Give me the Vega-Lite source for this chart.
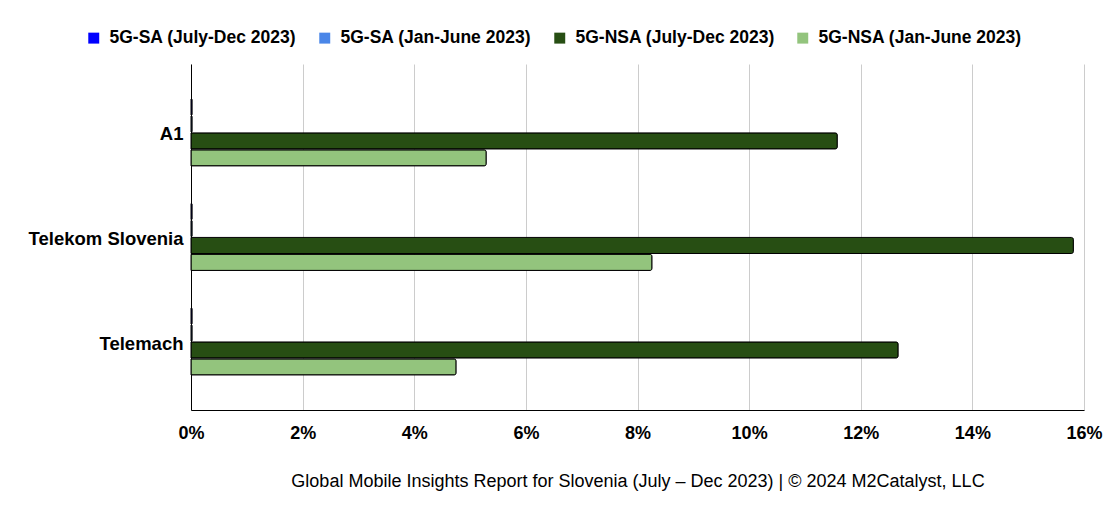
{
  "$schema": "https://vega.github.io/schema/vega-lite/v6.json",
  "width": 893,
  "height": 346,
  "autosize": "none",
  "padding": {"left": 191, "top": 64, "right": 26, "bottom": 107},
  "background": "white",
  "config": {
    "font": "Liberation Sans",
    "view": {"stroke": null}
  },
  "data": {
    "values": [
      {"operator": "A1", "series": "5G-SA (July-Dec 2023)", "value": 0.02},
      {"operator": "A1", "series": "5G-SA (Jan-June 2023)", "value": 0.02},
      {"operator": "A1", "series": "5G-NSA (July-Dec 2023)", "value": 11.58},
      {"operator": "A1", "series": "5G-NSA (Jan-June 2023)", "value": 5.29},
      {"operator": "Telekom Slovenia", "series": "5G-SA (July-Dec 2023)", "value": 0.02},
      {"operator": "Telekom Slovenia", "series": "5G-SA (Jan-June 2023)", "value": 0.02},
      {"operator": "Telekom Slovenia", "series": "5G-NSA (July-Dec 2023)", "value": 15.81},
      {"operator": "Telekom Slovenia", "series": "5G-NSA (Jan-June 2023)", "value": 8.26},
      {"operator": "Telemach", "series": "5G-SA (July-Dec 2023)", "value": 0.02},
      {"operator": "Telemach", "series": "5G-SA (Jan-June 2023)", "value": 0.02},
      {"operator": "Telemach", "series": "5G-NSA (July-Dec 2023)", "value": 12.67},
      {"operator": "Telemach", "series": "5G-NSA (Jan-June 2023)", "value": 4.75}
    ]
  },
  "mark": {"type": "bar", "stroke": "black", "strokeWidth": 1, "cornerRadiusEnd": 2},
  "encoding": {
    "y": {
      "field": "operator",
      "type": "nominal",
      "sort": ["A1", "Telekom Slovenia", "Telemach"],
      "scale": {"paddingInner": 0.36, "paddingOuter": 0.335},
      "axis": {
        "title": null,
        "ticks": false,
        "domainColor": "#000000",
        "labelFontSize": 18.5,
        "labelFontWeight": "bold",
        "labelColor": "#000000",
        "labelPadding": 8,
        "labelOffset": 2
      }
    },
    "yOffset": {
      "field": "series",
      "type": "nominal",
      "sort": ["5G-SA (July-Dec 2023)", "5G-SA (Jan-June 2023)", "5G-NSA (July-Dec 2023)", "5G-NSA (Jan-June 2023)"],
      "scale": {"paddingInner": 0.05}
    },
    "x": {
      "field": "value",
      "type": "quantitative",
      "scale": {"domain": [0, 16], "nice": false},
      "axis": {
        "values": [0, 2, 4, 6, 8, 10, 12, 14, 16],
        "labelExpr": "datum.value + '%'",
        "labelFlush": false,
        "ticks": false,
        "domainColor": "#000000",
        "gridColor": "#cccccc",
        "labelFontSize": 18,
        "labelFontWeight": "bold",
        "labelColor": "#000000",
        "labelPadding": 14,
        "title": "Global Mobile Insights Report for Slovenia (July – Dec 2023) | © 2024 M2Catalyst, LLC",
        "titleFontSize": 18,
        "titleFontWeight": "normal",
        "titleColor": "#000000",
        "titlePadding": 30
      }
    },
    "color": {
      "field": "series",
      "type": "nominal",
      "scale": {
        "domain": ["5G-SA (July-Dec 2023)", "5G-SA (Jan-June 2023)", "5G-NSA (July-Dec 2023)", "5G-NSA (Jan-June 2023)"],
        "range": ["#0000ff", "#4a86e8", "#274e13", "#93c47d"]
      },
      "legend": {
        "orient": "none",
        "legendX": -106,
        "legendY": -35,
        "direction": "horizontal",
        "columns": 4,
        "title": null,
        "symbolType": "square",
        "symbolSize": 120,
        "symbolStrokeWidth": 0,
        "labelFontSize": 17.5,
        "labelFontWeight": "bold",
        "labelColor": "#000000",
        "labelOffset": 7,
        "columnPadding": 19,
        "labelLimit": 300
      }
    }
  }
}
